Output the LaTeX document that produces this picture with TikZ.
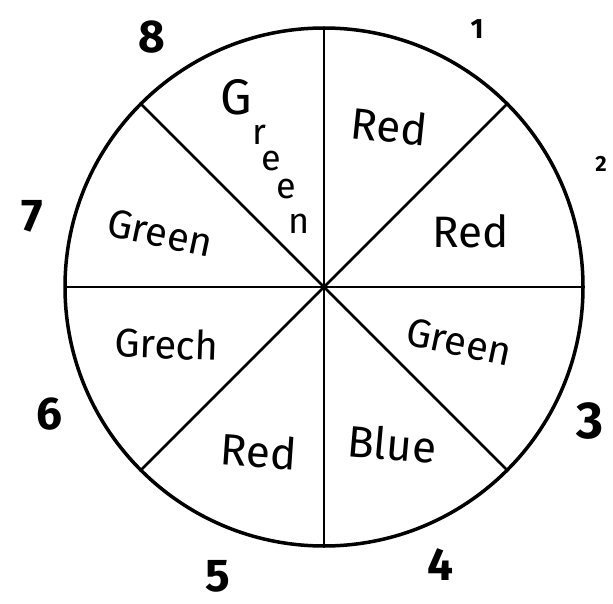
\documentclass[tikz,border=0pt]{standalone}
\usepackage{fontspec}
\setmainfont{Fira Sans}
\tikzset{rim/.style={line width=3.5pt},spoke/.style={line width=2.6pt,line cap=round},
 colour/.style={font=\fontsize{40}{44}\selectfont,inner sep=0pt},
 bigcolour/.style={colour,font=\fontsize{44}{48}\selectfont},
 letter/.style={colour,font=\fontsize{36}{38}\selectfont},
 num/.style={font=\fontsize{46}{48}\selectfont\bfseries,inner sep=0pt}}

\begin{document}
\begin{tikzpicture}[x=1pt,y=-1pt]
\useasboundingbox (0,0) rectangle (613,604);
\coordinate (C) at (324,287);
\draw[rim] (C) circle[radius=259pt];
\foreach \a in {0,45,...,315}
  \draw[spoke] (C) -- ++(\a:259);
% sector colours
\node[bigcolour,rotate=-6] (red1) at (389,126) {Red};
\node[bigcolour] (red2) at (471,231) {Red};
\node[colour,rotate=-12] (green3) at (459,342) {Green};
\node[bigcolour,rotate=-5] (blue4) at (392,444) {Blue};
\node[bigcolour,rotate=-4] (red5) at (259,451) {Red};
\node[colour,rotate=-2] (green6) at (167,344) {Grech};
\node[colour,rotate=-12] (green7) at (160,233) {Green};
\node[letter,font=\fontsize{50}{52}\selectfont] (g8) at (236,97) {G};
\foreach \l/\x/\y [count=\i] in {r/259/135,e/271/161,e/286/189,n/299/224}
  \node[letter] (l8\i) at (\x,\y) {\l};
% numbers
\node[num] (n1) at (477,29) {\fontsize{28}{30}\selectfont 1};
\node[num] (n2) at (601,164) {\fontsize{22}{24}\selectfont 2};
\node[num,font=\fontsize{52}{54}\selectfont\bfseries] (n3) at (590,421) {3};
\node[num] (n4) at (440,565) {4};
\node[num] (n5) at (218,576) {5};
\node[num] (n6) at (49,414) {6};
\node[num] (n7) at (32,216) {7};
\node[num] (n8) at (152,37) {8};
\end{tikzpicture}
\end{document}
